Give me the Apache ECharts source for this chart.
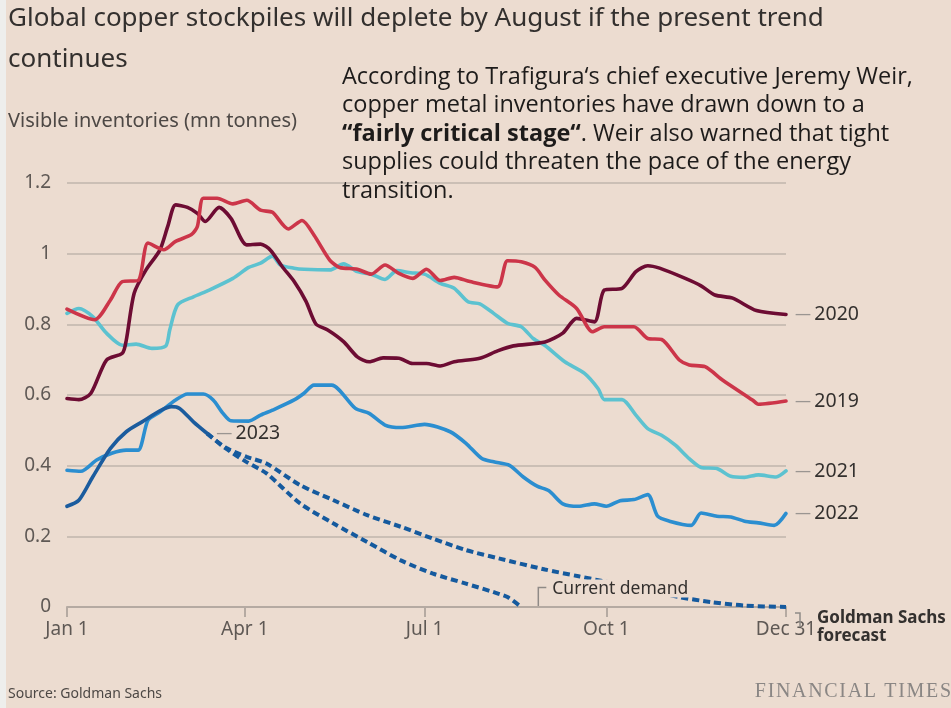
<!DOCTYPE html>
<html><head><meta charset="utf-8">
<script src="https://cdn.jsdelivr.net/npm/echarts@6/dist/echarts.min.js"></script>
<style>html,body{margin:0;padding:0;background:#ecdcd0;} #c{width:951px;height:708px;}</style>
</head><body><div id="c"></div>
<script>
// x axis: day of year (Jan 1 = 0, Dec 31 = 364)
const tickDays = [0, 90, 181, 273, 364];
const tickLabels = ['Jan 1', 'Apr 1', 'Jul 1', 'Oct 1', 'Dec 31'];
const yTicks = [0, 0.2, 0.4, 0.6, 0.8, 1, 1.2];

const days2019 = [0, 14, 22, 28, 36, 41, 49, 55, 63, 66, 69, 76, 84, 91, 98, 104, 112, 119, 125, 133, 138, 147, 154, 161, 168, 175, 182, 189, 196, 204, 218, 223, 230, 237, 242, 249, 258, 266, 272, 287, 294, 301, 310, 315, 323, 332, 347, 350, 364];
const stock2019 = [0.843, 0.813, 0.869, 0.921, 0.924, 1.030, 1.011, 1.035, 1.054, 1.077, 1.157, 1.157, 1.141, 1.151, 1.123, 1.117, 1.070, 1.094, 1.053, 0.982, 0.961, 0.956, 0.942, 0.968, 0.944, 0.930, 0.956, 0.924, 0.933, 0.921, 0.906, 0.980, 0.977, 0.961, 0.925, 0.883, 0.845, 0.779, 0.793, 0.793, 0.760, 0.757, 0.699, 0.685, 0.680, 0.642, 0.586, 0.574, 0.583];

const days2020 = [0, 6, 12, 20, 28, 30, 34, 40, 47, 51, 55, 61, 66, 70, 77, 83, 91, 98, 103, 109, 115, 121, 126, 132, 140, 147, 153, 160, 168, 175, 182, 189, 196, 209, 218, 226, 242, 251, 258, 267, 272, 281, 288, 294, 300, 313, 321, 328, 337, 349, 364];
const stock2020 = [0.590, 0.587, 0.604, 0.699, 0.718, 0.755, 0.888, 0.954, 1.010, 1.077, 1.138, 1.131, 1.114, 1.091, 1.131, 1.100, 1.025, 1.027, 1.010, 0.963, 0.921, 0.865, 0.801, 0.784, 0.751, 0.708, 0.694, 0.705, 0.704, 0.689, 0.689, 0.682, 0.694, 0.704, 0.725, 0.739, 0.750, 0.775, 0.817, 0.807, 0.897, 0.902, 0.949, 0.966, 0.959, 0.930, 0.909, 0.883, 0.874, 0.839, 0.828];

const days2021 = [0, 6, 13, 20, 28, 35, 43, 50, 52, 56, 64, 72, 84, 92, 98, 104, 108, 115, 120, 133, 140, 147, 154, 161, 167, 174, 181, 189, 196, 203, 209, 216, 223, 230, 236, 242, 252, 262, 269, 272, 281, 288, 294, 301, 308, 315, 321, 329, 336, 343, 350, 359, 364];
const stock2021 = [0.831, 0.845, 0.822, 0.775, 0.741, 0.744, 0.732, 0.739, 0.784, 0.855, 0.878, 0.897, 0.930, 0.961, 0.973, 0.993, 0.968, 0.959, 0.956, 0.954, 0.971, 0.949, 0.942, 0.927, 0.952, 0.946, 0.942, 0.916, 0.902, 0.864, 0.858, 0.831, 0.803, 0.793, 0.760, 0.740, 0.694, 0.661, 0.617, 0.587, 0.587, 0.543, 0.505, 0.486, 0.458, 0.420, 0.395, 0.392, 0.370, 0.367, 0.374, 0.368, 0.385];

const days2022 = [0, 7, 15, 23, 30, 36, 41, 47, 55, 61, 69, 74, 79, 83, 92, 98, 104, 115, 120, 125, 134, 146, 153, 161, 169, 181, 194, 202, 210, 216, 224, 231, 238, 244, 251, 259, 267, 273, 280, 287, 294, 299, 305, 316, 321, 329, 336, 343, 350, 358, 364];
const stock2022 = [0.387, 0.384, 0.416, 0.436, 0.444, 0.444, 0.529, 0.552, 0.586, 0.603, 0.603, 0.586, 0.548, 0.527, 0.526, 0.543, 0.557, 0.586, 0.605, 0.628, 0.628, 0.562, 0.548, 0.515, 0.508, 0.517, 0.496, 0.463, 0.420, 0.411, 0.401, 0.368, 0.342, 0.329, 0.292, 0.285, 0.292, 0.285, 0.301, 0.304, 0.318, 0.257, 0.243, 0.231, 0.266, 0.257, 0.255, 0.243, 0.238, 0.231, 0.265];

const days2023 = [0, 6, 13, 22, 30, 38, 47, 53, 57, 64, 71];
const stock2023 = [0.285, 0.302, 0.368, 0.449, 0.496, 0.524, 0.555, 0.567, 0.562, 0.524, 0.491];

const daysForecast = [71, 80, 91, 101, 118, 135, 152, 169, 185, 202, 219, 242, 259, 276, 310, 326, 343, 364];
const stockForecast = [0.491, 0.452, 0.425, 0.406, 0.345, 0.302, 0.260, 0.227, 0.194, 0.161, 0.137, 0.106, 0.087, 0.068, 0.028, 0.014, 0.004, 0.0];

const daysDemand = [71, 80, 91, 101, 118, 135, 152, 169, 185, 202, 216, 223, 230];
const stockDemand = [0.491, 0.450, 0.410, 0.378, 0.293, 0.236, 0.184, 0.132, 0.095, 0.066, 0.042, 0.028, 0.0];

const BG = '#ecdcd0';
const TXT = '#33302e';
const zip = (d, v) => d.map((x, i) => [x, v[i]]);

function solid(name, d, v, color, label, z) {
  return {
    name, type: 'line', data: zip(d, v), showSymbol: false, smooth: 0.25, z,
    lineStyle: { color, width: 3.6, cap: 'round', join: 'round' },
    endLabel: label ? {
      show: true, distance: 9,
      formatter: '{d|—} {t|' + label + '}',
      rich: {
        d: { color: '#9a9591', fontSize: 16, fontFamily: 'Noto Sans' },
        t: { color: TXT, fontSize: 19.5, fontFamily: 'Noto Sans' }
      }
    } : { show: false },
    emphasis: { disabled: true }, silent: true, animation: false
  };
}
function dashed(name, d, v) {
  return {
    name, type: 'line', data: zip(d, v), showSymbol: false, smooth: 0.25, z: 6,
    lineStyle: { color: '#155a9e', width: 4, type: [7, 4] },
    emphasis: { disabled: true }, silent: true, animation: false
  };
}

const chart = echarts.init(document.getElementById('c'), null, { renderer: 'canvas' });
chart.setOption({
  backgroundColor: BG,
  animation: false,
  grid: { left: 67, right: 165, top: 183, bottom: 101, containLabel: false, outerBoundsMode: 'none' },
  xAxis: {
    type: 'value', min: 0, max: 364,
    axisLine: { show: true, lineStyle: { color: '#b5aaa2', width: 2 } },
    axisTick: { show: true, length: 10, lineStyle: { color: '#b5aaa2', width: 2 }, customValues: tickDays },
    axisLabel: {
      customValues: tickDays, margin: 13, color: '#5f5955', fontSize: 19, fontFamily: 'Noto Sans',
      formatter: v => tickLabels[tickDays.indexOf(Math.round(v))] || ''
    },
    splitLine: { show: false }
  },
  yAxis: {
    type: 'value', min: 0, max: 1.2, interval: 0.2,
    axisLine: { show: false }, axisTick: { show: false },
    axisLabel: {
      margin: 16, color: '#5f5955', fontSize: 19, fontFamily: 'Noto Sans',
      formatter: v => { const k = yTicks.find(t => Math.abs(t - v) < 1e-6); return k === undefined ? '' : String(k); }
    },
    splitLine: { show: true, lineStyle: { color: '#cbbfb5', width: 2 } }
  },
  series: [
    solid('2021', days2021, stock2021, '#5cc2d0', '2021', 2),
    solid('2022', days2022, stock2022, '#2b8ed0', '2022', 3),
    solid('2020', days2020, stock2020, '#6d0c33', '2020', 4),
    solid('2019', days2019, stock2019, '#cc3549', '2019', 5),
    dashed('Goldman Sachs forecast', daysForecast, stockForecast),
    dashed('Current demand', daysDemand, stockDemand),
    solid('2023', days2023, stock2023, '#1b5c9e', '2023', 7)
  ]
});

// annotations anchored through the chart's own scales
const pEnd = chart.convertToPixel({ gridIndex: 0 }, [364, 0]);
const pDem = chart.convertToPixel({ gridIndex: 0 }, [daysDemand[daysDemand.length - 1], 0]);
const pDemTop = chart.convertToPixel({ gridIndex: 0 }, [0, 0.055]);
const bx = pDem[0] + 17;
const spaced = s => s.split('').join('\u200A');

chart.setOption({
  graphic: [
    { type: 'rect', left: 0, top: 0, shape: { width: 6, height: 708 }, style: { fill: '#eeeeec' }, z: 100 },
    { type: 'text', x: 8, y: 19, style: { text: 'Global copper stockpiles will deplete by August if the present trend', fill: TXT, fontSize: 26, fontFamily: 'Noto Sans', verticalAlign: 'middle' } },
    { type: 'text', x: 8, y: 60, style: { text: 'continues', fill: TXT, fontSize: 26, fontFamily: 'Noto Sans', verticalAlign: 'middle' } },
    { type: 'text', x: 8, y: 121, style: { text: 'Visible inventories (mn tonnes)', fill: '#4d4845', fontSize: 20, fontFamily: 'Noto Sans', verticalAlign: 'middle' } },
    { type: 'text', x: 342, y: 63, z: 50, style: {
        text: 'According to Trafigura‘s chief executive Jeremy Weir,\ncopper metal inventories have drawn down to a\n{b|“fairly critical stage“}. Weir also warned that tight\nsupplies could threaten the pace of the energy\ntransition.',
        fill: '#1d1b1a', fontSize: 23.5, fontFamily: 'Open Sans', lineHeight: 28.5,
        rich: { b: { fontWeight: 'bold', fontSize: 23.5, fontFamily: 'Open Sans', lineHeight: 28.5, fill: '#1d1b1a' } }
      } },
    // Current demand label
    { type: 'polyline', z: 60, shape: { points: [[bx, pDem[1] - 1], [bx, pDemTop[1]], [bx + 8, pDemTop[1]]] }, style: { stroke: '#8f8a86', lineWidth: 1.5, fill: null } },
    { type: 'text', z: 60, x: bx + 13, y: pDemTop[1] + 1, style: { text: 'Current demand', fill: TXT, fontSize: 17.5, fontFamily: 'Noto Sans', verticalAlign: 'middle', backgroundColor: BG, padding: [0, 2, 0, 1] } },
    // Goldman Sachs forecast label
    { type: 'polyline', z: 60, shape: { points: [[pEnd[0] + 9, pEnd[1] + 6], [pEnd[0] + 14, pEnd[1] + 6], [pEnd[0] + 14, pEnd[1] + 20]] }, style: { stroke: '#8f8a86', lineWidth: 1.5, fill: null } },
    { type: 'text', z: 60, x: pEnd[0] + 31, y: pEnd[1] + 2, style: { text: 'Goldman Sachs\nforecast', fill: TXT, fontSize: 17, fontFamily: 'Noto Sans', fontWeight: 'bold', lineHeight: 18 } },
    { type: 'text', x: 8, y: 694, style: { text: 'Source: Goldman Sachs', fill: '#4d4845', fontSize: 14, fontFamily: 'Noto Sans', verticalAlign: 'middle' } },
    { type: 'text', x: 951, y: 692, style: { text: spaced('FINANCIAL TIMES'), fill: '#8a8684', fontSize: 20, fontFamily: 'Liberation Serif', align: 'right', verticalAlign: 'middle' } }
  ]
});
</script></body></html>
